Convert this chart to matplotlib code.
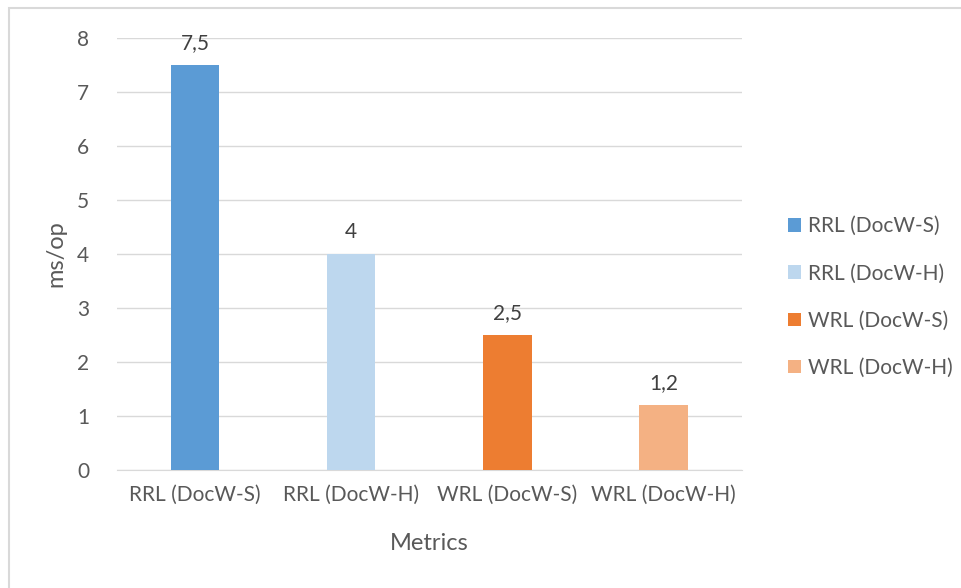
import matplotlib
matplotlib.use("Agg")
import matplotlib.pyplot as plt
from matplotlib.patches import Rectangle, Patch

plt.rcParams['font.family'] = ['Lato', 'DejaVu Sans']

categories = ["RRL (DocW-S)", "RRL (DocW-H)", "WRL (DocW-S)", "WRL (DocW-H)"]
values = [7.5, 4, 2.5, 1.2]
value_labels = ["7,5", "4", "2,5", "1,2"]
colors = ["#5B9BD5", "#BDD7EE", "#ED7D31", "#F4B183"]
yticks = [0, 1, 2, 3, 4, 5, 6, 7, 8]

text_color = "#595959"

fig = plt.figure(figsize=(9.62, 5.88), dpi=100)
ax = fig.add_axes([0.1216, 0.2007, 0.6494, 0.7343])

x = range(len(categories))
bars = ax.bar(x, values, width=0.31, color=colors, zorder=3)

for b, lab in zip(bars, value_labels):
    ax.text(b.get_x() + b.get_width() / 2, b.get_height() + 0.22, lab,
            ha="center", va="bottom", fontsize=15, color="#404040")

ax.set_xlim(-0.5, 3.5)
ax.set_ylim(0, 8)
ax.set_yticks(yticks)
ax.set_xticks(list(x))
ax.set_xticklabels(categories)
ax.grid(axis="y", color="#D9D9D9", linewidth=1, zorder=0)
for s in ["top", "right", "left"]:
    ax.spines[s].set_visible(False)
ax.spines["bottom"].set_color("#D9D9D9")
ax.tick_params(axis="both", length=0, labelsize=15, colors=text_color)
ax.tick_params(axis="y", pad=20)
ax.tick_params(axis="x", pad=11)
ax.set_xlabel("Metrics", fontsize=17, color=text_color, labelpad=20)
ax.set_ylabel("ms/op", fontsize=17, color=text_color, labelpad=8)

handles = [Patch(facecolor=c, edgecolor="none") for c in colors]
fig.legend(handles, categories, loc="center left", bbox_to_anchor=(0.8, 0.495),
           frameon=False, fontsize=15, labelcolor=text_color,
           handlelength=0.6, handleheight=0.6, handletextpad=0.35,
           labelspacing=1.3)

fig.patches.append(Rectangle((0.0094, -0.05), 1.1, 1.0356, transform=fig.transFigure,
                             fill=False, edgecolor="#D9D9D9", linewidth=1.5))

fig.savefig("out.png", dpi=100)
